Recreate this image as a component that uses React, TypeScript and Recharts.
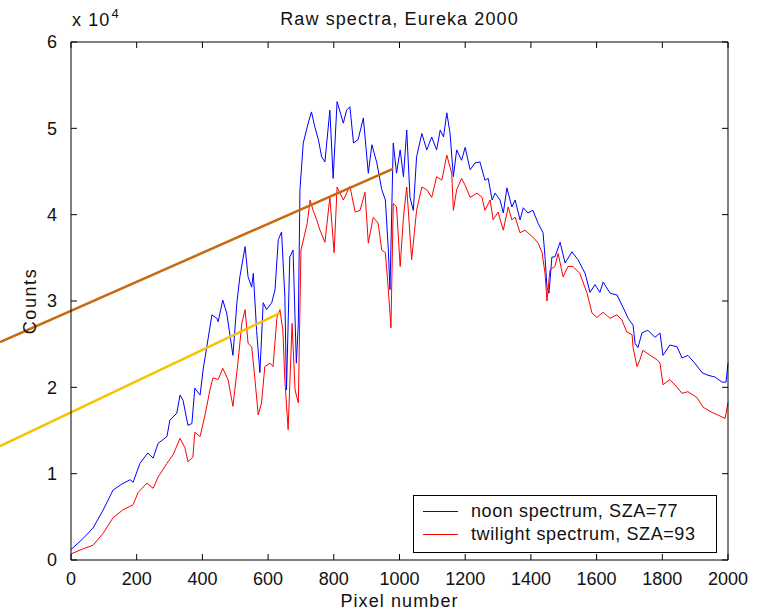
import type { JSX } from "react";
import { LineChart, Line, XAxis, YAxis, ReferenceLine } from "recharts";

// ─── Data ─────────────────────────────────────────────────────────────────────
// Raw spectra, Eureka 2000 — counts

const noonPixels = [
  0, 37, 67, 98, 128, 155, 180, 189, 210, 234, 250, 265, 292, 301, 322, 332, 341, 356, 368, 377,
  393, 402, 429, 444, 448, 462, 474, 493, 505, 514, 530, 539, 550, 555, 565, 575, 585, 595, 611, 621,
  631, 641, 651, 656, 666, 676, 686, 692, 697, 707, 722, 732, 742, 753, 763, 773, 788, 798, 810, 829,
  839, 849, 860, 874, 890, 905, 916, 931, 946, 957, 966, 971, 981, 991, 1002, 1012, 1022, 1032, 1042, 1052,
  1068, 1083, 1098, 1113, 1124, 1134, 1144, 1154, 1164, 1174, 1189, 1200, 1215, 1230, 1245, 1260, 1270, 1282, 1291, 1306,
  1316, 1327, 1342, 1352, 1367, 1377, 1391, 1406, 1422, 1437, 1443, 1449, 1455, 1464, 1473, 1489, 1504, 1525, 1543, 1565,
  1580, 1595, 1610, 1620, 1641, 1662, 1680, 1696, 1711, 1717, 1726, 1738, 1756, 1778, 1793, 1802, 1823, 1845, 1860, 1878,
  1899, 1921, 1939, 1960, 1982, 1994, 2000,
];
const noonCounts = [
  1200, 2500, 3700, 5800, 8100, 8800, 9300, 9000, 11200, 12400, 11800, 13500, 14300, 16200, 17000, 19100, 18500, 15600, 15800, 19900,
  19100, 22000, 28400, 28000, 27600, 30100, 28600, 23700, 29800, 32800, 36300, 32800, 31600, 33200, 26600, 21700, 29800, 29000, 29800, 31300,
  37100, 38000, 30500, 19700, 35100, 35900, 22800, 27400, 42900, 48300, 50600, 51900, 50200, 48700, 46700, 46100, 52100, 44200, 53100, 50600,
  52100, 52500, 48300, 48700, 51200, 44800, 48100, 46000, 42900, 41700, 35900, 31300, 48300, 44800, 47500, 44400, 49800, 42000, 40500, 46700,
  49400, 47500, 49000, 47500, 49800, 49000, 51800, 49400, 44400, 47500, 46300, 47800, 45200, 46000, 46100, 44000, 44200, 41700, 42500, 41700,
  40200, 43100, 40900, 41700, 39400, 40800, 40200, 40500, 39000, 37900, 35100, 31600, 30900, 35100, 35100, 36800, 34400, 35700, 34800, 33200,
  31000, 31900, 31000, 32200, 30900, 30700, 29300, 28000, 27200, 25100, 24600, 26300, 26600, 25800, 26300, 23700, 24900, 24700, 23400, 23700,
  22800, 21700, 21400, 21200, 20600, 20600, 22800,
];

const twilightPixels = [
  0, 37, 67, 98, 128, 158, 189, 204, 231, 250, 265, 292, 311, 332, 347, 356, 371, 377, 393, 408,
  423, 432, 448, 462, 478, 493, 508, 520, 530, 539, 550, 560, 570, 580, 590, 606, 615, 627, 636, 645,
  651, 661, 673, 682, 692, 700, 710, 719, 728, 737, 748, 758, 773, 788, 801, 810, 829, 849, 865, 880,
  895, 905, 920, 935, 946, 957, 966, 974, 981, 991, 1002, 1012, 1022, 1037, 1052, 1068, 1083, 1098, 1113, 1129,
  1144, 1159, 1164, 1174, 1189, 1200, 1215, 1236, 1251, 1260, 1276, 1285, 1300, 1316, 1331, 1342, 1352, 1367, 1382, 1391,
  1406, 1422, 1434, 1443, 1449, 1458, 1473, 1483, 1498, 1513, 1528, 1549, 1571, 1586, 1601, 1620, 1641, 1662, 1677, 1692,
  1708, 1711, 1723, 1732, 1741, 1763, 1784, 1793, 1802, 1823, 1845, 1860, 1878, 1906, 1924, 1951, 1969, 1991, 2000,
];
const twilightCounts = [
  700, 1300, 1700, 3100, 4900, 5800, 6400, 7800, 8900, 8300, 9600, 11200, 12200, 14100, 13000, 11400, 11900, 14800, 14300, 16800,
  19700, 21100, 20900, 22200, 20900, 17800, 22800, 27400, 29000, 25100, 24700, 20900, 16800, 18200, 22400, 22800, 22400, 28100, 29000, 26600,
  20900, 15100, 27400, 19700, 18200, 35900, 37500, 39000, 41700, 40500, 39400, 38200, 36800, 42000, 35600, 43200, 41700, 43300, 40300, 40500,
  42600, 36700, 39700, 39000, 35900, 35600, 31300, 26900, 41300, 40900, 34000, 39700, 43200, 34800, 40500, 43200, 42900, 42000, 44400, 44000,
  46900, 44800, 40500, 42900, 44200, 43400, 42000, 42500, 42000, 40500, 41700, 39400, 40300, 38200, 40900, 39400, 39700, 37900, 38200, 37900,
  37400, 36700, 35600, 33200, 30000, 33600, 34000, 35500, 32800, 34000, 34000, 33200, 30900, 28600, 28100, 28700, 28000, 28400, 27800, 26400,
  26100, 24600, 22400, 23200, 24300, 23700, 23200, 22800, 20300, 20900, 20000, 19300, 19500, 18800, 17700, 17100, 16800, 16400, 18200,
];

// two straight guide lines drawn across the plot, running off the left edge
const brownGuide = [
  { x: -216, y: 25250 },
  { x: 980, y: 45300 },
];
const yellowGuide = [
  { x: -216, y: 13200 },
  { x: 636, y: 28600 },
];

const xTicks = [0, 200, 400, 600, 800, 1000, 1200, 1400, 1600, 1800, 2000];
const yTicks = [0, 10000, 20000, 30000, 40000, 50000, 60000];

const noonData = noonPixels.map((pixel, i) => ({ pixel, counts: noonCounts[i] }));
const twilightData = twilightPixels.map((pixel, i) => ({ pixel, counts: twilightCounts[i] }));

const FONT = "'Liberation Sans', Arial, Helvetica, sans-serif";
const INK = "#111";
const TICK_LEN = 6;

// chart frame: plot box edges follow from the margins below
const WIDTH = 759;
const HEIGHT = 611;
const MARGIN = { top: 41, right: 30, bottom: 0, left: 0 };
const PLOT_TOP = MARGIN.top + 1;
const PLOT_RIGHT = WIDTH - MARGIN.right - 1;

// MATLAB-style ticks: short marks pointing into the box on all four sides
const BOTTOM_GAP = 12;
const LEFT_GAP = 14;

function BottomTick(props: any): JSX.Element {
  const { x, y, payload } = props;
  const axisY = y - BOTTOM_GAP;
  return (
    <g>
      <line x1={x} x2={x} y1={axisY} y2={axisY - TICK_LEN} stroke="#000" />
      <line x1={x} x2={x} y1={PLOT_TOP} y2={PLOT_TOP + TICK_LEN} stroke="#000" />
      <text x={x} y={y} dy="0.71em" textAnchor="middle" fontSize={18} fill={INK} fontFamily={FONT}>
        {payload.value}
      </text>
    </g>
  );
}

function LeftTick(props: any): JSX.Element {
  const { x, y, payload } = props;
  const axisX = x + LEFT_GAP;
  return (
    <g>
      <line x1={axisX} x2={axisX + TICK_LEN} y1={y} y2={y} stroke="#000" />
      <line x1={PLOT_RIGHT} x2={PLOT_RIGHT - TICK_LEN} y1={y} y2={y} stroke="#000" />
      <text x={x} y={y} dy="0.355em" textAnchor="end" fontSize={18} fill={INK} fontFamily={FONT}>
        {payload.value / 10000}
      </text>
    </g>
  );
}

function LegendBox(): JSX.Element {
  const row = (color: string, label: string) => (
    <div style={{ display: "flex", alignItems: "center", height: 23 }}>
      <div style={{ width: 35, height: 1, background: color, marginLeft: 9, marginRight: 13 }} />
      <span>{label}</span>
    </div>
  );
  return (
    <div
      style={{
        position: "absolute",
        left: 413,
        top: 495,
        width: 302,
        height: 52,
        border: "1px solid #000",
        background: "#fff",
        fontFamily: FONT,
        fontSize: 18,
        letterSpacing: 0.6,
        color: INK,
        paddingTop: 4,
        boxSizing: "content-box",
        lineHeight: "23px",
      }}
    >
      {row("#0000ff", "noon spectrum, SZA=77")}
      {row("#ff0000", "twilight spectrum, SZA=93")}
    </div>
  );
}

const labelStyle = { position: "absolute" as const, fontFamily: FONT, fontSize: 18, color: INK, letterSpacing: 1.1, whiteSpace: "nowrap" as const };

export default function App(): JSX.Element {
  return (
    <div style={{ position: "absolute", left: 0, top: 0, width: WIDTH, height: HEIGHT, background: "#fff", overflow: "hidden" }}>
      <LineChart width={WIDTH} height={HEIGHT} margin={MARGIN}>
        <XAxis
          xAxisId="bottom"
          dataKey="pixel"
          type="number"
          domain={[0, 2000]}
          ticks={xTicks}
          height={51}
          tickSize={0}
          tickMargin={BOTTOM_GAP}
          tickLine={false}
          stroke="#000"
          tick={BottomTick}
        />
        <XAxis xAxisId="top" orientation="top" type="number" domain={[0, 2000]} ticks={xTicks} height={1} tick={false} tickLine={false} stroke="#000" />
        <YAxis
          yAxisId="left"
          type="number"
          domain={[0, 60000]}
          ticks={yTicks}
          width={71}
          tickSize={0}
          tickMargin={LEFT_GAP}
          tickLine={false}
          stroke="#000"
          tick={LeftTick}
        />
        <YAxis yAxisId="right" orientation="right" type="number" domain={[0, 60000]} ticks={yTicks} width={1} tick={false} tickLine={false} stroke="#000" />
        <Line
          xAxisId="bottom"
          yAxisId="left"
          data={noonData}
          dataKey="counts"
          type="linear"
          stroke="#0000ff"
          strokeWidth={1}
          dot={false}
          isAnimationActive={false}
        />
        <Line
          xAxisId="bottom"
          yAxisId="left"
          data={twilightData}
          dataKey="counts"
          type="linear"
          stroke="#ff0000"
          strokeWidth={1}
          dot={false}
          isAnimationActive={false}
        />
        <ReferenceLine xAxisId="bottom" yAxisId="left" segment={brownGuide} stroke="#c8690f" strokeWidth={2.5} ifOverflow="visible" />
        <ReferenceLine xAxisId="bottom" yAxisId="left" segment={yellowGuide} stroke="#f7c300" strokeWidth={2.5} ifOverflow="visible" />
      </LineChart>

      <div style={{ ...labelStyle, left: 0, width: 799, top: 8, textAlign: "center", lineHeight: "22px" }}>
        Raw spectra, Eureka 2000
      </div>
      <div style={{ ...labelStyle, left: 72, top: 9, lineHeight: "22px" }}>
        x 10<sup style={{ fontSize: 13, verticalAlign: "top", position: "relative", top: -6, marginLeft: 1 }}>4</sup>
      </div>
      <div style={{ ...labelStyle, left: 30, top: 301, letterSpacing: 1.6, transform: "translate(-50%, -50%) rotate(-90deg)" }}>
        Counts
      </div>
      <div style={{ ...labelStyle, left: 0, width: 799, top: 590, textAlign: "center", lineHeight: "22px" }}>
        Pixel number
      </div>
      <LegendBox />
    </div>
  );
}
